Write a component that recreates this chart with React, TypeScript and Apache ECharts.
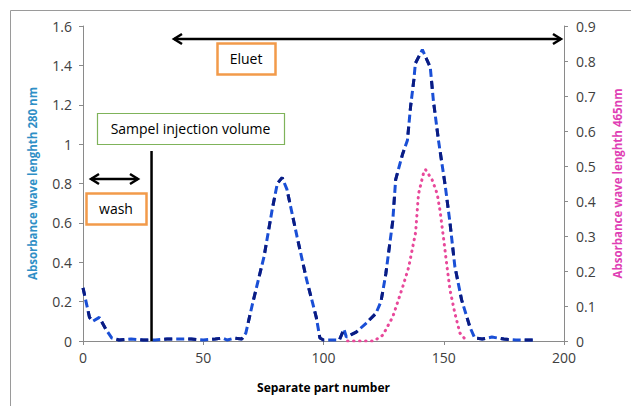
import React, { useEffect, useRef } from "react";
import * as echarts from "echarts";

// Absorbance at 280 nm (left axis): [separate part number, absorbance]
const a280X = [0, 2.7, 4, 6.8, 9.5, 12, 15, 20, 25, 30, 35, 40, 45, 50, 55, 58, 60, 63, 66, 67.7, 70.5, 75.3, 78.7, 80.8, 82.8, 84.8, 89, 93, 97, 98.5, 100, 104, 106.6, 108.5, 109.5, 113.6, 117.7, 121.8, 123.9, 125.9, 128.8, 130, 132.9, 134.9, 136.2, 137.6, 138.2, 141.1, 144.4, 145.7, 147.8, 150.6, 152.6, 154.6, 157.4, 160.9, 162.9, 166, 170, 175, 180, 188];
const a280Y = [0.27, 0.12, 0.1, 0.12, 0.06, 0.015, 0.005, 0.01, 0.005, 0.005, 0.01, 0.01, 0.01, 0.005, 0.01, 0.015, 0.005, 0.015, 0.01, 0.04, 0.19, 0.43, 0.67, 0.8, 0.83, 0.77, 0.53, 0.31, 0.12, 0.015, 0.005, 0.005, 0.005, 0.06, 0.02, 0.045, 0.09, 0.14, 0.2, 0.34, 0.61, 0.82, 0.95, 1.02, 1.19, 1.33, 1.41, 1.48, 1.39, 1.22, 1.02, 0.79, 0.6, 0.38, 0.21, 0.07, 0.015, 0.01, 0.02, 0.01, 0.005, 0.005];

// Absorbance at 465 nm (right axis)
const a465X = [110, 115, 121, 124.7, 128.8, 132.9, 135.4, 138.3, 139.5, 141.6, 142.4, 145.2, 147.3, 148.5, 149.8, 151.4, 152.6, 154.6, 156.7, 159.5];
const a465Y = [0, 0, 0, 0.017, 0.069, 0.154, 0.21, 0.31, 0.42, 0.48, 0.49, 0.46, 0.42, 0.37, 0.3, 0.21, 0.146, 0.08, 0.023, 0];

const xTicks = [0, 50, 100, 150, 200];
const leftTicks = [0, 0.2, 0.4, 0.6, 0.8, 1, 1.2, 1.4, 1.6];
const rightTicks = [0, 0.1, 0.2, 0.3, 0.4, 0.5, 0.6, 0.7, 0.8, 0.9];

const injectionPart = 28.5;
const injectionTop = 0.965;

const FONT = "Open Sans";

export default function App() {
  const ref = useRef<HTMLDivElement>(null);
  useEffect(() => {
    document.body.style.margin = "0";
    const chart = echarts.init(ref.current!, null, { renderer: "svg" });
    const d280 = a280X.map((x, i) => [x, a280Y[i]]);
    const d465 = a465X.map((x, i) => [x, a465Y[i]]);
    const axisLine = { show: true, lineStyle: { color: "#8a8a8a", width: 1 } };
    const axisTick = { show: true, length: 4, lineStyle: { color: "#8a8a8a" } };
    const axisLabel = { color: "#404040", fontFamily: FONT, fontSize: 14 };

    const arrowHead = (x: number, y: number, dir: number) => ({
      type: "polyline",
      shape: { points: [[x + dir * 8, y - 5], [x, y], [x + dir * 8, y + 5]] },
      style: { stroke: "#000", lineWidth: 2.5, fill: null },
      z: 100,
    });

    const box = (x: number, y: number, w: number, h: number, color: string, text: string) => [
      { type: "rect", shape: { x: x + 0.5, y: y + 0.5, width: w, height: h }, style: { fill: "#fff", stroke: color, lineWidth: color === "#f29a4a" ? 2.5 : 1.2 }, z: 100 },
      { type: "text", x: x + w / 2, y: y + h / 2, style: { text, fill: "#000", fontFamily: FONT, fontSize: 14, align: "center", verticalAlign: "middle" }, z: 101 },
    ];

    chart.setOption({
      animation: false,
      backgroundColor: "#fff",
      grid: { left: 83, right: 61, top: 26, bottom: 65, containLabel: false },
      xAxis: {
        type: "value", min: xTicks[0], max: xTicks[xTicks.length - 1], interval: 50,
        name: "Separate part number", nameLocation: "middle", nameGap: 40,
        nameTextStyle: { color: "#000", fontWeight: "bold", fontFamily: FONT, fontSize: 12 },
        axisLine, axisTick, axisLabel: { ...axisLabel, margin: 9 }, splitLine: { show: false },
      },
      yAxis: [
        {
          type: "value", min: 0, max: leftTicks[leftTicks.length - 1], interval: 0.2,
          name: "Absorbance wave lenghth 280 nm", nameLocation: "middle", nameGap: 45,
          nameTextStyle: { color: "#2f8fc6", fontWeight: "bold", fontFamily: FONT, fontSize: 11.5 },
          axisLine, axisTick, axisLabel: { ...axisLabel, margin: 11 }, splitLine: { show: false },
        },
        {
          type: "value", min: 0, max: rightTicks[rightTicks.length - 1], interval: 0.1, position: "right",
          name: "Absorbance wave lenghth 465nm", nameLocation: "middle", nameGap: 47,
          nameTextStyle: { color: "#e03fb4", fontWeight: "bold", fontFamily: FONT, fontSize: 11.5 },
          axisLine, axisTick, axisLabel: { ...axisLabel, margin: 12, formatter: (v: number) => String(+v.toFixed(1)) }, splitLine: { show: false },
        },
      ],
      series: [
        {
          name: "280 nm", type: "line", yAxisIndex: 0, data: d280, symbol: "none",
          lineStyle: { color: "#1a4fd6", width: 3, type: [8, 4] }, z: 3,
        },
        {
          name: "280 nm dark", type: "line", yAxisIndex: 0, data: d280, symbol: "none",
          lineStyle: { color: "#0b1c82", width: 3, type: [8, 16] }, z: 4, silent: true,
        },
        {
          name: "465 nm", type: "line", yAxisIndex: 1, data: d465, symbol: "none",
          lineStyle: { color: "#e8489a", width: 3, type: [0.5, 5.5], cap: "round" }, z: 2,
        },
        {
          name: "injection", type: "line", yAxisIndex: 0, data: [[injectionPart, 0], [injectionPart, injectionTop]], symbol: "none",
          lineStyle: { color: "#000", width: 2.5 }, z: 6,
        },
      ],
      graphic: [
        { type: "rect", shape: { x: 10.5, y: 10.5, width: 660, height: 440 }, style: { fill: null, stroke: "#9a9a9a", lineWidth: 1 }, silent: true },
        // Eluet arrow
        { type: "line", shape: { x1: 174, y1: 39, x2: 561, y2: 39 }, style: { stroke: "#000", lineWidth: 2.5 }, z: 100 },
        arrowHead(174, 39, 1),
        arrowHead(561, 39, -1),
        // wash arrow
        { type: "line", shape: { x1: 91, y1: 179, x2: 138, y2: 179 }, style: { stroke: "#000", lineWidth: 2.5 }, z: 100 },
        arrowHead(91, 179, 1),
        arrowHead(138, 179, -1),
        ...box(217, 43, 58, 31, "#f29a4a", "Eluet"),
        ...box(97, 113, 187, 31, "#7fb35a", "Sampel injection volume"),
        ...box(86, 193, 60, 31, "#f29a4a", "wash"),
      ],
    });
    return () => chart.dispose();
  }, []);
  return <div ref={ref} style={{ position: "fixed", left: 0, top: 0, width: 631, height: 406 }} />;
}
